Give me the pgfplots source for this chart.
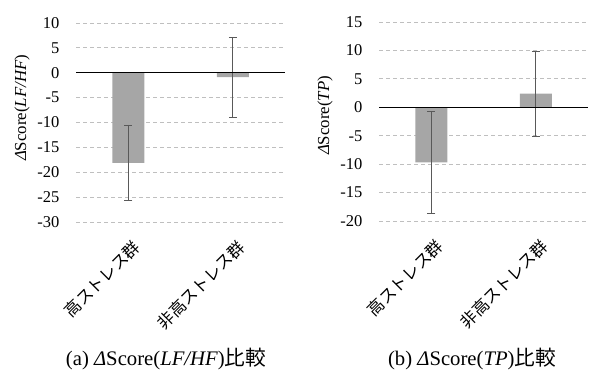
\documentclass[border=0pt]{standalone}
\usepackage{pgfplots}
\pgfplotsset{compat=1.18}
\usepackage{fontspec}
\setmainfont{Liberation Serif}
\newfontfamily\cjk{Noto Sans CJK JP}
\definecolor{barc}{HTML}{A6A6A6}
\definecolor{errc}{HTML}{595959}
\definecolor{gridc}{HTML}{BFBFBF}
\pgfplotsset{
  mybar/.style={
    scale only axis,
    width=209bp,
    xmin=-0.5, xmax=1.5,
    axis line style={draw=none},
    major tick length=0pt,
    xtick={0,1},
    xticklabels={高ストレス群,非高ストレス群},
    xticklabel style={font=\cjk\fontsize{16.5bp}{19bp}\selectfont, rotate=45, anchor=north east, inner sep=0pt, xshift=-9bp, yshift=-14bp},
    ymajorgrids,
    grid style={gridc, line width=0.8pt, dash pattern=on 4bp off 3bp},
    /pgf/number format/assume math mode=true,
    yticklabel style={font=\fontsize{16.5bp}{19bp}\selectfont, xshift=-13bp},
    label style={font=\fontsize{16.8bp}{19bp}\selectfont},
    clip=false,
  },
}
\begin{document}
\begin{tikzpicture}[x=1bp,y=1bp]
\path (0,0) rectangle (590,374);
% left
\begin{axis}[mybar, at={(76bp,152bp)}, anchor=south west,
  height=199bp, ymin=-30, ymax=10, ytick={-30,-25,...,10},
  ylabel={{\itshape Δ}Score({\itshape LF/HF})},
  ylabel style={at={(axis description cs:-0.258,0.573)}, anchor=center},
]
\addplot[ybar, bar width=32bp, fill=barc, draw=none,
  error bars/.cd, y dir=both, y explicit,
  error bar style={errc, line width=0.8pt},
  error mark options={rotate=90, mark size=4bp, errc, line width=0.8pt}]
  coordinates {(0,-18.1) +- (0,7.6) (1,-0.9) +- (0,8.0)};
\draw[black, line width=0.8pt] (axis cs:-0.5,0) -- (axis cs:1.5,0);
\end{axis}
% right
\begin{axis}[mybar, at={(379bp,153bp)}, anchor=south west,
  height=199bp, ymin=-20, ymax=15, ytick={-20,-15,...,15},
  ylabel={{\itshape Δ}Score({\itshape TP})},
  ylabel style={at={(axis description cs:-0.258,0.53)}, anchor=center},
]
\addplot[ybar, bar width=32bp, fill=barc, draw=none,
  error bars/.cd, y dir=both, y explicit,
  error bar style={errc, line width=0.8pt},
  error mark options={rotate=90, mark size=4bp, errc, line width=0.8pt}]
  coordinates {(0,-9.7) +- (0,8.9) (1,2.4) +- (0,7.5)};
\draw[black, line width=0.8pt] (axis cs:-0.5,0) -- (axis cs:1.5,0);
\end{axis}
\node[font=\fontsize{20.7bp}{24bp}\selectfont] at (166,15) {(a) {\itshape Δ}Score({\itshape LF/HF}){\cjk 比較}};
\node[font=\fontsize{20.7bp}{24bp}\selectfont] at (472,15) {(b) {\itshape Δ}Score({\itshape TP}){\cjk 比較}};
\end{tikzpicture}
\end{document}
